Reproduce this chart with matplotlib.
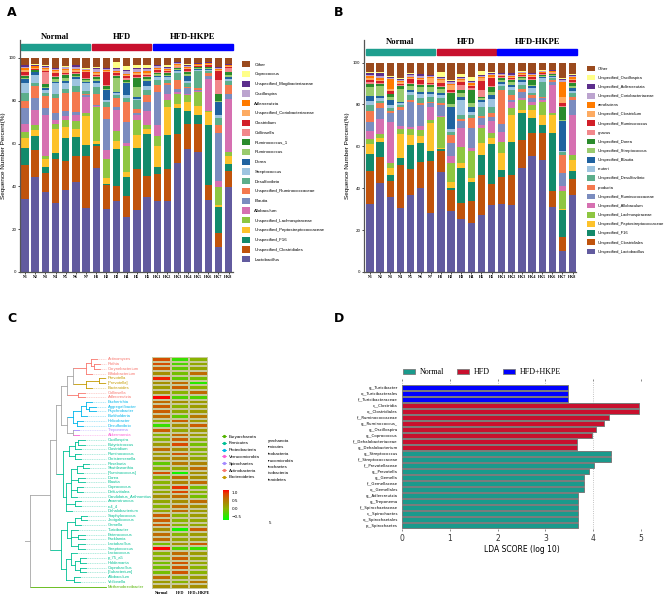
import numpy as np
import matplotlib
matplotlib.use("Agg")
import matplotlib.pyplot as plt
from matplotlib.patches import Patch, Rectangle
from matplotlib.lines import Line2D
from matplotlib.colors import LinearSegmentedColormap

W, H = 669, 598

# ---------------- data: panels A / B (stack order bottom -> top) ----------------
samples = ['N1', 'N2', 'N3', 'N4', 'N5', 'N6', 'N7',
           'H1', 'H2', 'H3', 'H4', 'H5', 'H6',
           'HK1', 'HK2', 'HK3', 'HK4', 'HK5', 'HK6', 'HK7', 'HK8']
groups = ['Normal', 'HFD', 'HFD-HKPE']
group_sizes = [7, 6, 8]

a_taxa = ['Lactobacillus', 'Unspecified_Clostridiales', 'Unspecified_F16',
          'Unspecified_Peptostreptococcaceae', 'Unspecified_Lachnospiraceae',
          'Allobaculum', 'Blautia', 'Unspecified_Ruminococcaceae', 'Desulfovibrio',
          'Streptococcus', 'Dorea', 'Ruminococcus', 'Ruminococcus_1', 'Collinsella',
          'Clostridium', 'Unspecified_Coriobacteriaceae', 'Adlercreutzia',
          'Oscillospira', 'Unspecified_Mogibacteriaceae', 'Coprococcus', 'Other']

b_taxa = ['Unspecified_Lactobacillus', 'Unspecified_Clostridiales', 'Unspecified_F16',
          'Unspecified_Peptostreptococcaceae', 'Unspecified_Lachnospiraceae',
          'Unspecified_Allobaculum', 'Unspecified_Ruminococcaceae', 'producta',
          'Unspecified_Desulfovibrio', 'reuteri', 'Unspecified_Blautia',
          'Unspecified_Streptococcus', 'Unspecified_Dorea', 'gnavus',
          'Unspecified_Ruminococcus', 'Unspecified_Clostridium', 'aerofaciens',
          'Unspecified_Coriobacteriaceae', 'Unspecified_Adlercreutzia',
          'Unspecified_Oscillospira', 'Other']

a_normal = [
    [34, 16, 8, 4.5, 3, 3.5, 7.5, 3.5, 3.5, 5, 1.5, 0.5, 1, 0.5, 1.5, 1, 1, 0.5, 0.5, 0.2, 3.3],
    [44.7, 12.9, 6.6, 2.8, 2.2, 7.1, 5.8, 5.4, 1.6, 3.6, 1.2, 0.4, 0.6, 0.3, 0.4, 0.6, 0.5, 0.4, 0.4, 0.2, 3.0],
    [37.7, 8.6, 2.8, 3.7, 1.7, 19.3, 3.3, 5.3, 1.6, 1.5, 1.0, 0.5, 1.0, 6, 0.3, 0.8, 0.7, 0.5, 0.5, 0.1, 3.5],
    [32.4, 20.6, 2.6, 11.4, 2.3, 1.9, 3.1, 7, 1.9, 5.1, 0.7, 1, 1, 0.5, 1.5, 1, 0.5, 0.5, 0.2, 0.1, 4.7],
    [38.5, 13.2, 10.9, 5.2, 3.4, 1.5, 2.4, 8.5, 1.9, 2.8, 1.1, 1.1, 1.5, 0.5, 0.7, 1.1, 0.7, 0.8, 0.2, 0.1, 3.9],
    [42.2, 12.2, 8.5, 4.1, 3.4, 2.8, 1.6, 9.2, 2.8, 3.4, 0.8, 0.5, 1, 0.5, 0.5, 1, 0.5, 1, 0.5, 0.1, 3.4],
    [30, 24.4, 5.1, 13.2, 1.6, 7.5, 0.8, 0.4, 1.4, 3.9, 0.7, 0.5, 0.7, 0.3, 3, 0.5, 0.3, 0.5, 0.2, 0.1, 4.9],
]
a_hfd = [
    [48.6, 10.1, 1.3, 1, 16.1, 0.3, 0.8, 5.1, 3.1, 1.9, 0.8, 0.9, 1, 0.5, 0.5, 1, 0.5, 1.5, 0.3, 0.5, 4.2],
    [29.4, 11.4, 0.5, 2.6, 8.9, 4.1, 14.8, 5.4, 2.2, 1.2, 4.7, 0.5, 1.1, 0.5, 6.2, 0.5, 0.3, 0.7, 0.3, 0.2, 4.5],
    [33, 7, 17.5, 3.5, 4.7, 10.2, 1.1, 4.3, 1.6, 0.7, 0.5, 6.4, 1, 0.5, 1, 0.5, 0.5, 1, 0.5, 2.5, 2],
    [25.6, 10.1, 8.9, 2, 12.5, 1.4, 9.5, 9.3, 2, 1.2, 5.8, 0.7, 0.9, 0.6, 0.9, 0.6, 0.5, 1.3, 0.5, 2.1, 3.6],
    [29, 19, 9.9, 6.2, 7, 2.4, 0.8, 1.8, 4.4, 0.5, 0.6, 4.8, 4.2, 0.4, 1, 1, 0.5, 1.5, 0.5, 1, 3.5],
    [35, 10, 19.4, 2.4, 2, 6.2, 4.3, 3.2, 2.7, 1.8, 2.4, 0.6, 1, 0.5, 0.7, 0.8, 1, 1, 0.5, 1, 3.5],
]
a_hkpe = [
    [33.4, 12.8, 3.1, 10.1, 4.3, 5.4, 15.3, 3.6, 2.3, 1.1, 0.5, 1.1, 0.5, 0.5, 1, 0.5, 0.5, 0.5, 0.5, 0.2, 3.3],
    [33.4, 14.6, 16.1, 12.8, 3.3, 3, 4.3, 0.8, 1.6, 1.1, 0.7, 0.5, 0.6, 0.5, 0.5, 0.7, 0.5, 0.5, 0.5, 0.5, 3.5],
    [50.9, 13.7, 12, 1.9, 4.8, 0.6, 1.6, 4.4, 3.1, 0.8, 0.4, 0.5, 0.6, 0.3, 0.4, 0.5, 0.5, 0.5, 0.5, 0.1, 1.9],
    [57.4, 11.9, 5.7, 4.3, 3.2, 0.7, 2.8, 0.4, 1.9, 0.8, 2.6, 0.8, 1, 0.5, 0.8, 0.5, 0.5, 0.5, 0.5, 0.2, 3],
    [55.9, 13.4, 4.2, 4.2, 6.2, 0.8, 0.5, 0.8, 7.8, 0.7, 0.5, 0.3, 0.5, 0.2, 0.3, 0.4, 0.3, 0.3, 0.2, 0.1, 2.4],
    [33.7, 7, 28.1, 5.8, 0.4, 15.2, 1.2, 1.6, 0.8, 0.4, 0.8, 0.3, 0.4, 0.3, 0.5, 0.5, 0.5, 0.3, 0.2, 0.2, 1.8],
    [11.5, 6.6, 12.5, 0.8, 8.5, 2.4, 22.6, 3.9, 3.1, 1.6, 5.8, 0.4, 3.5, 6.7, 3.9, 0.5, 0.5, 0.5, 0.5, 0.2, 4],
    [39.5, 7.9, 3, 3.9, 2, 24.5, 2.5, 4.2, 1.6, 1.2, 0.7, 1, 1.5, 2, 0.5, 0.3, 0.3, 0.3, 0.3, 0.1, 2.7],
]

b_normal = [
    [32.4, 15.9, 8.1, 4.6, 2.5, 3.8, 4.4, 4.8, 3.2, 1.6, 2.4, 4.5, 1.6, 0.8, 0.8, 1, 0.8, 0.8, 0.8, 0.5, 4.5],
    [42.4, 12.7, 6.8, 2.2, 1.6, 7.6, 4.8, 2.4, 1.2, 1.5, 0.9, 4.8, 1.1, 0.5, 0.5, 0.8, 0.7, 1, 1.5, 0.3, 4.7],
    [35.6, 7.9, 2.8, 3.5, 2.1, 19.8, 4, 1.1, 1.3, 1.6, 2.3, 1.7, 1.1, 0.4, 1.3, 1, 4.5, 0.5, 0.8, 0.2, 6.5],
    [30.5, 20.6, 3.2, 11.6, 2.4, 1.5, 7.5, 1.6, 0.8, 1.1, 0.5, 6.3, 1.1, 0.8, 0.5, 0.6, 0.6, 0.6, 0.5, 0.2, 7.5],
    [36.8, 12.4, 11.4, 4.8, 2.9, 1.1, 11.9, 0.8, 2.3, 1.6, 0.8, 2.1, 0.8, 0.5, 2.1, 0.5, 0.5, 0.7, 0.8, 0.2, 5],
    [40, 12.7, 8.7, 3.5, 2.9, 2, 9.9, 0.8, 2.8, 1.9, 0.8, 2.4, 1.1, 0.5, 1.5, 0.5, 0.5, 1, 1, 0.3, 5.2],
    [28.1, 24.9, 4.9, 13.1, 1.5, 6.4, 1.6, 0.8, 2.4, 1.5, 0.8, 2.4, 0.8, 0.6, 0.5, 2.2, 0.5, 0.5, 0.5, 0.2, 5.8],
]
b_hfd = [
    [47.6, 10.2, 0.8, 0.4, 15.1, 0.5, 5.1, 0.8, 2.4, 1.5, 1.3, 1.9, 0.8, 0.6, 1.5, 1, 0.5, 0.5, 0.5, 2.5, 4.5],
    [28.9, 10.4, 0.8, 3.1, 8.8, 3.5, 6, 4, 1.6, 1.1, 10.8, 1.3, 5.1, 0.8, 0.8, 2.3, 0.7, 0.9, 0.5, 0.3, 8.3],
    [25.3, 7.6, 16.7, 2.4, 7.9, 8.8, 3.2, 1.1, 2, 7.2, 1.6, 1.6, 1.6, 2.3, 1.6, 0.8, 0.7, 0.4, 0.5, 1.3, 5.4],
    [23.4, 10.3, 9.5, 1.6, 12.8, 1.5, 9.6, 4.7, 1.6, 1.6, 2.4, 1.6, 6.4, 0.8, 0.8, 0.7, 0.8, 0.8, 0.5, 1.6, 7],
    [27.3, 19.1, 9.6, 5.8, 6.9, 1.6, 3.1, 1.2, 4.4, 2.4, 0.8, 0.8, 0.5, 3.5, 4.3, 1.2, 0.8, 0.5, 0.3, 1.9, 4],
    [32.1, 10, 19.1, 2.7, 2.7, 5.3, 2.3, 1.6, 3.2, 3.5, 2.1, 1.6, 2, 0.7, 3.6, 0.8, 0.7, 0.6, 0.6, 0.3, 4.5],
]
b_hkpe = [
    [32.4, 13.2, 2.9, 8.3, 5.2, 5.1, 3.6, 16.3, 1.9, 0.9, 1.1, 0.8, 0.8, 0.5, 0.5, 0.5, 0.3, 0.3, 0.3, 0.3, 4.8],
    [32.1, 14.3, 15.9, 12.7, 3.2, 3.2, 0.8, 2.4, 2.4, 1.2, 1.1, 1.6, 0.8, 0.5, 0.5, 0.6, 0.3, 0.7, 0.6, 0.3, 4.8],
    [49.6, 13.5, 12.7, 1.6, 4.8, 0.8, 3.2, 1.1, 2, 1.6, 0.8, 0.8, 0.5, 0.5, 0.6, 0.5, 0.3, 0.5, 0.3, 0.3, 4],
    [55.2, 11.1, 7.1, 4, 2.4, 1.6, 1.6, 1.6, 1.1, 2.1, 0.8, 0.7, 2.4, 0.7, 0.6, 0.5, 0.5, 0.4, 0.5, 0.3, 4.8],
    [53.6, 12.7, 4, 4.7, 6.4, 0.8, 0.8, 0.8, 7.1, 1.6, 0.5, 0.6, 0.5, 0.5, 0.3, 0.3, 0.3, 0.4, 0.3, 0.1, 3.7],
    [31, 7.5, 27.8, 8.7, 0.8, 13.5, 1.6, 0.8, 0.8, 0.8, 0.3, 0.5, 0.5, 0.3, 0.3, 0.3, 0.4, 0.3, 0.3, 0.2, 3.3],
    [9.9, 6.8, 12.7, 0.6, 8.9, 2, 6.3, 8.8, 1.1, 0.9, 13.9, 0.8, 6, 0.6, 1.6, 2.9, 7.1, 0.8, 0.5, 0.3, 7.5],
    [36.9, 7.5, 3.6, 5.6, 2.4, 19, 7.2, 1.6, 1.6, 1.2, 1.2, 1.1, 1.2, 0.7, 0.9, 0.7, 0.9, 0.5, 0.5, 0.3, 5.4],
]

palette = ['#625b9f', '#c0530c', '#138a6b', '#fdc22b', '#8ec641', '#d670b1',
           '#7b8cbf', '#f4794f', '#5cae8b', '#9ec4e0', '#1f62a0', '#9acb6e',
           '#2a8b2c', '#f2888b', '#d21f29', '#fdab62', '#ff7b00', '#bca4cf',
           '#5c2e8c', '#ffff88', '#9a4a1e']
group_colors = ['#1e9e8e', '#c8102e', '#0000ff']

# ---------------- data: panel C ----------------
genera = ['Actinomyces', 'Rothia', 'Corynebacterium', 'Bifidobacterium',
          'Prevotella', '[Prevotella]', 'Bacteroides', 'Collinsella', 'Adlercreutzia',
          'Escherichia', 'Aggregatibacter', 'Psychrobacter', 'Burkholderia',
          'Helicobacter', 'Desulfovibrio', 'Treponema', 'Akkermansia',
          'Oscillospira', 'Butyricicoccus', 'Clostridium', 'Ruminococcus',
          'Christensenella', 'Roseburia', 'Shuttleworthia', '[Ruminococcus]',
          'Dorea', 'Blautia', 'Coprococcus', 'Defluviitalea', 'Candidatus_Arthromitus',
          'Anaerotruncus', 'rc4_4', 'Dehalobacterium', 'Staphylococcus',
          'Jeotgalicoccus', 'Gemella', 'Turicibacter', 'Enterococcus', 'Facklamia',
          'Lactobacillus', 'Streptococcus', 'Lactococcus', 'p_75_a5', 'Holdemania',
          'Coprobacillus', '[Eubacterium]', 'Allobaculum', 'Veillonella',
          'Methanobrevibacter']
genus_phylum = (['Actinobacteria'] * 4 + ['Bacteroidetes'] * 3 + ['Actinobacteria'] * 2
                + ['Proteobacteria'] * 6 + ['Spirochaetes', 'Verrucomicrobia']
                + ['Firmicutes'] * 31 + ['Euryarchaeota'])
phyla = ['Euryarchaeota', 'Firmicutes', 'Proteobacteria', 'Verrucomicrobia',
         'Spirochaetes', 'Actinobacteria', 'Bacteroidetes']
phyla_cut = ['yarchaeota', 'rmicutes', 'teobacteria', 'rrucomicrobia',
             'irochaetes', 'inobacteria', 'teroidetes']
phylum_colors = dict(zip(phyla, ['#53b400', '#00c094', '#00b6eb', '#fb61d7',
                                 '#a58aff', '#f8766d', '#c49a00']))

hm_normal = [0.8, 0.8, 0.7, 0.3, 1.0, 0.3, 0.2, 0.3, 1.1, 0.6, 0.7, 0.7, 0.6, 0.0, -0.4,
             0.7, 0.0, 0.0, 0.2, 0.6, 0.2, 0.3, -0.2, 0.0, 0.8, 0.0, 0.0, 0.0, 0.1, 0.3,
             0.1, 0.0, 0.1, 0.7, 0.7, 0.7, 0.3, 0.6, 0.6, -0.1, 1.1, 0.0, 0.0, -0.1,
             -0.1, -0.1, 0.6, 0.2, 0.3]
hm_hfd = [-0.4, -0.3, -0.2, -0.1, -0.2, 0.6, 0.7, 0.0, -0.3, 0.3, 0.0, 0.1, -0.2, 0.7, 0.3,
          0.1, 0.6, 0.7, 0.85, 0.3, 0.75, 0.4, 0.5, 0.1, -0.6, 0.6, 0.4, 0.95, 0.85, 0.6,
          0.3, 0.6, 0.6, 0.0, 0.0, 0.0, -0.6, 0.0, 0.1, 0.3, -0.3, 0.6, 0.7, 0.75,
          0.75, 0.75, 0.1, 0.0, 0.3]
hm_hkpe = [0.0, 0.1, 0.1, 0.6, -0.1, -0.5, 0.0, 0.6, -0.3, 0.2, 0.2, 0.2, 0.5, 0.2, 0.7,
           0.2, 0.2, 0.0, -0.1, 0.0, 0.0, 0.1, 0.4, 0.6, 0.3, 0.3, 0.6, -0.1, 0.0, -0.1,
           0.6, 0.3, 0.2, 0.2, 0.1, 0.1, 0.7, 0.2, 0.2, 0.7, -0.4, 0.2, 0.1, 0.1,
           0.0, 0.0, 0.2, 0.5, 0.3]
hm_columns = ['Normal', 'HFD', 'HFD+HKPE']

# cladogram: (node depth, children); ints are rows of `genera`
tree = (0.0, [
    (0.26, [
        (0.33, [
            (0.40, [
                (0.47, [
                    (0.55, [
                        (0.72, [(0.78, [0, (0.82, [1, 2])]), 3]),
                        (0.72, [(0.88, [4, 5]), 6]),
                    ]),
                    (0.62, [7, 8]),
                ]),
                (0.48, [
                    (0.55, [
                        (0.65, [(0.72, [9, (0.76, [10, 11])]), 12]),
                        (0.60, [13, 14]),
                    ]),
                    (0.55, [15, 16]),
                ]),
            ]),
            (0.42, [
                (0.50, [(0.58, [(0.62, [17, 18]), 19]), (0.58, [20, 21])]),
                (0.46, [
                    (0.52, [(0.60, [(0.68, [22, 23]), 24]), (0.62, [25, 26]),
                            (0.60, [27, 28]), 29]),
                    (0.58, [30, 31]),
                    32,
                ]),
            ]),
        ]),
        (0.40, [
            (0.47, [
                (0.58, [(0.65, [33, 34]), 35]),
                (0.53, [36, (0.62, [37, 38]), (0.62, [39, 40])]),
            ]),
            (0.46, [
                (0.52, [41, (0.58, [(0.64, [42, 43]), (0.64, [44, 45])])]),
                (0.56, [46, 47]),
            ]),
        ]),
    ]),
    48,
])

# ---------------- data: panel D ----------------
lda_features = ['g__Turicibacter', 'o__Turicibacterales', 'f__Turicibacteraceae',
                'c__Clostridia', 'o__Clostridiales', 'f__Ruminococcaceae',
                'g__Ruminococcus_', 'g__Oscillospira', 'g__Coprococcus',
                'f__Dehalobacteriaceae', 'g__Dehalobacterium', 'g__Streptococcus',
                'f__Streptococcaceae', 'f__Prevotellaceae', 'g__Prevotella',
                'g__Gemella', 'f__Gemellaceae', 'o__Gemellales', 'g__Adlercreutzia',
                'g__Treponema', 'f__Spirochaetaceae', 'c__Spirochaetes',
                'o__Spirochaetales', 'p__Spirochaetes']
lda_scores = [3.47, 3.47, 3.47, 4.95, 4.95, 4.33, 4.22, 4.05, 3.98, 3.66, 3.66,
              4.38, 4.38, 4.01, 3.91, 3.81, 3.81, 3.81, 3.69, 3.69, 3.68, 3.68,
              3.68, 3.68]
lda_groups = ['HFD+HKPE'] * 3 + ['HFD'] * 8 + ['Normal'] * 13
lda_group_names = ['Normal', 'HFD', 'HFD+HKPE']

fig = plt.figure(figsize=(W / 100, H / 100), dpi=100)


def px_axes(x0, y0, x1, y1):
    return fig.add_axes([x0 / W, 1 - y1 / H, (x1 - x0) / W, (y1 - y0) / H])


def stacked_panel(ax, rows, taxa, top, xpad):
    vals = np.array(rows, dtype=float)
    vals = vals / vals.sum(axis=1, keepdims=True) * 100
    x = np.arange(len(vals))
    bottom = np.zeros(len(vals))
    for k in range(vals.shape[1]):
        ax.bar(x, vals[:, k], bottom=bottom, width=0.72, color=palette[k],
               linewidth=0, label=taxa[k])
        bottom += vals[:, k]
    ax.set_xlim(-xpad, len(vals) - 1 + (20.93 - 20 - xpad))
    ax.set_ylim(0, top)
    ax.set_yticks([0, 20, 40, 60, 80, 100])
    ax.set_xticks(x)
    ax.set_xticklabels(samples, fontsize=3.0, family='Liberation Serif', weight='bold',
                       rotation=0)
    ax.tick_params(axis='y', labelsize=2.8, length=1.5, width=0.5, pad=1)
    ax.tick_params(axis='x', length=1.5, width=0.5, pad=1)
    for s in ['top', 'right']:
        ax.spines[s].set_visible(False)
    for s in ['left', 'bottom']:
        ax.spines[s].set_color('#555555')
        ax.spines[s].set_linewidth(0.9)
    ax.set_ylabel('Sequence Number Percent(%)', fontsize=4.6, labelpad=2,
                  family='Liberation Sans')
    start = 0
    for name, n, c in zip(groups, group_sizes, group_colors):
        ax.add_patch(Rectangle((start - 0.42, 103.7), n - 1 + 0.84, 2.8, color=c,
                               clip_on=False))
        ax.text(start + (n - 1) / 2, 109.9, name, ha='center', va='center',
                fontsize=6.2, family='Liberation Serif', weight='bold', clip_on=False)
        start += n


# ---------------- panel A ----------------
axA = px_axes(20, 40, 233, 272)
stacked_panel(axA, a_normal + a_hfd + a_hkpe, a_taxa, 108.4, 0.49)
hA, lA = axA.get_legend_handles_labels()
fig.legend(hA[::-1], lA[::-1], loc='upper left', bbox_to_anchor=(242 / W, 1 - 61 / H),
           frameon=False, prop={'family': 'Liberation Sans', 'size': 3.2},
           handlelength=1.8, handleheight=1.8, labelspacing=0.78, handletextpad=1.0,
           borderpad=0, borderaxespad=0)

# ---------------- panel B ----------------
axB = px_axes(364, 40, 576, 272)
stacked_panel(axB, b_normal + b_hfd + b_hkpe, b_taxa, 110.8, 0.59)
hB, lB = axB.get_legend_handles_labels()
fig.legend(hB[::-1], lB[::-1], loc='upper left', bbox_to_anchor=(587 / W, 1 - 65.5 / H),
           frameon=False, prop={'family': 'Liberation Sans', 'size': 3.0},
           handlelength=1.9, handleheight=1.68, labelspacing=0.86, handletextpad=0.7,
           borderpad=0, borderaxespad=0)

# ---------------- panel C ----------------
axT = px_axes(25, 357, 152, 589)
axT.set_xlim(-5 / 78, 122 / 78)
axT.set_ylim(len(genera), 0)
axT.axis('off')


def draw_clade(node, parent_x):
    if isinstance(node, int):
        y = node + 0.5
        ph = genus_phylum[node]
        c = phylum_colors[ph]
        tip = 0.98 if parent_x == 0.0 else parent_x + 0.08
        axT.plot([parent_x, tip], [y, y], color=c, lw=0.6)
        if tip < 0.98:
            axT.plot([tip, 0.98], [y, y], color=c, lw=0.5, ls=(0, (1.5, 1)), alpha=0.45)
        axT.text(1.0, y, genera[node], color=c, fontsize=3.0, va='center', ha='left',
                 family='Liberation Sans')
        return y, ph
    x, kids = node
    res = [draw_clade(k, x) for k in kids]
    ys = [r[0] for r in res]
    phs = set(r[1] for r in res)
    ph = phs.pop() if len(phs) == 1 else None
    c = phylum_colors[ph] if ph else '#a6a6a6'
    axT.plot([x, x], [min(ys), max(ys)], color=c, lw=0.6)
    y = (min(ys) + max(ys)) / 2
    axT.plot([parent_x, x], [y, y], color=c, lw=0.6)
    return y, ph


draw_clade(tree, -0.08)

cmap = LinearSegmentedColormap.from_list(
    'gr', [(0, '#00ff00'), (0.38, '#8ab200'), (0.72, '#c06a00'), (0.88, '#e04000'),
           (1, '#ff0000')])
axH = px_axes(152, 357, 208, 589)
hm = np.array([hm_normal, hm_hfd, hm_hkpe]).T
mesh = axH.pcolormesh(hm, cmap=cmap, vmin=-0.68, vmax=1.12, edgecolors='#c9c99a',
                      linewidth=0.15)
axH.set_ylim(len(genera), 0)
axH.set_xticks([0.5, 1.5, 2.5])
axH.set_xticklabels(hm_columns, fontsize=3.0, family='Liberation Serif', weight='bold')
axH.set_yticks([])
axH.tick_params(axis='x', length=0, pad=1.5)
for s in axH.spines.values():
    s.set_visible(False)

handles_c = [Line2D([0], [0], color=phylum_colors[p], lw=0.6, marker='o', markersize=1.3)
             for p in phyla]
fig.legend(handles_c, phyla, loc='upper left', bbox_to_anchor=(222 / W, 1 - 434.5 / H),
           frameon=False, prop={'family': 'Liberation Sans', 'size': 3.2},
           handlelength=0.9, labelspacing=0.6, handletextpad=0.6, borderpad=0,
           borderaxespad=0)
for i, t in enumerate(phyla_cut):
    fig.text(268 / W, 1 - (441 + 6.5 * i) / H, t, fontsize=3.2, va='center',
             family='Liberation Sans')

cax = px_axes(223, 490, 229, 520)
cb = fig.colorbar(mesh, cax=cax, ticks=[-0.5, 0.0, 0.5, 1.0])
cb.outline.set_visible(False)
cb.ax.set_yticklabels(['\u22120.5', '0.0', '0.5', '1.0'])
cb.ax.tick_params(labelsize=3.0, length=0, pad=2)
fig.text(269 / W, 1 - 523 / H, '5', fontsize=3.2, va='center', family='Liberation Sans')

# ---------------- panel D ----------------
axD = px_axes(402, 381, 641, 529)
group_color_map = dict(zip(lda_group_names, ['#1a9a8c', '#c8102e', '#0000ff']))
yD = np.arange(len(lda_features))
axD.barh(yD, lda_scores, height=0.82, color=[group_color_map[g] for g in lda_groups],
         edgecolor='#7a7a7a', linewidth=0.7, zorder=2)
axD.set_xlim(0, 5)
axD.set_ylim(23.62, -1.05)
axD.set_yticks(yD)
axD.set_yticklabels(lda_features, fontsize=2.8)
axD.set_xticks([0, 1, 2, 3, 4, 5])
axD.tick_params(axis='y', length=0, pad=3)
axD.tick_params(axis='x', labelsize=5.5, length=1.5, width=0.4, top=True, pad=2,
                colors='#333333')
axD.grid(axis='x', ls=':', color='#b0b0b0', lw=0.6, zorder=0)
for s in axD.spines.values():
    s.set_visible(False)
axD.set_xlabel('LDA SCORE (log 10)', fontsize=5.5, labelpad=1.5)
handles_d = [Patch(facecolor=group_color_map[g], edgecolor='#7a7a7a', linewidth=0.6)
             for g in lda_group_names]
fig.legend(handles_d, lda_group_names, loc='center left',
           bbox_to_anchor=(403 / W, 1 - 372 / H), ncol=3, frameon=False,
           prop={'family': 'Liberation Serif', 'size': 5.8}, handlelength=1.5,
           handleheight=0.6, handletextpad=0.6, columnspacing=1.6, borderpad=0,
           borderaxespad=0)

# panel letters
for letter, (lx, ly) in zip('ABCD', [(12, 12), (339, 13), (12, 319), (339, 319)]):
    fig.text(lx / W, 1 - ly / H, letter, fontsize=9, weight='bold', ha='center',
             va='center')

fig.savefig('out.png', dpi=100)
